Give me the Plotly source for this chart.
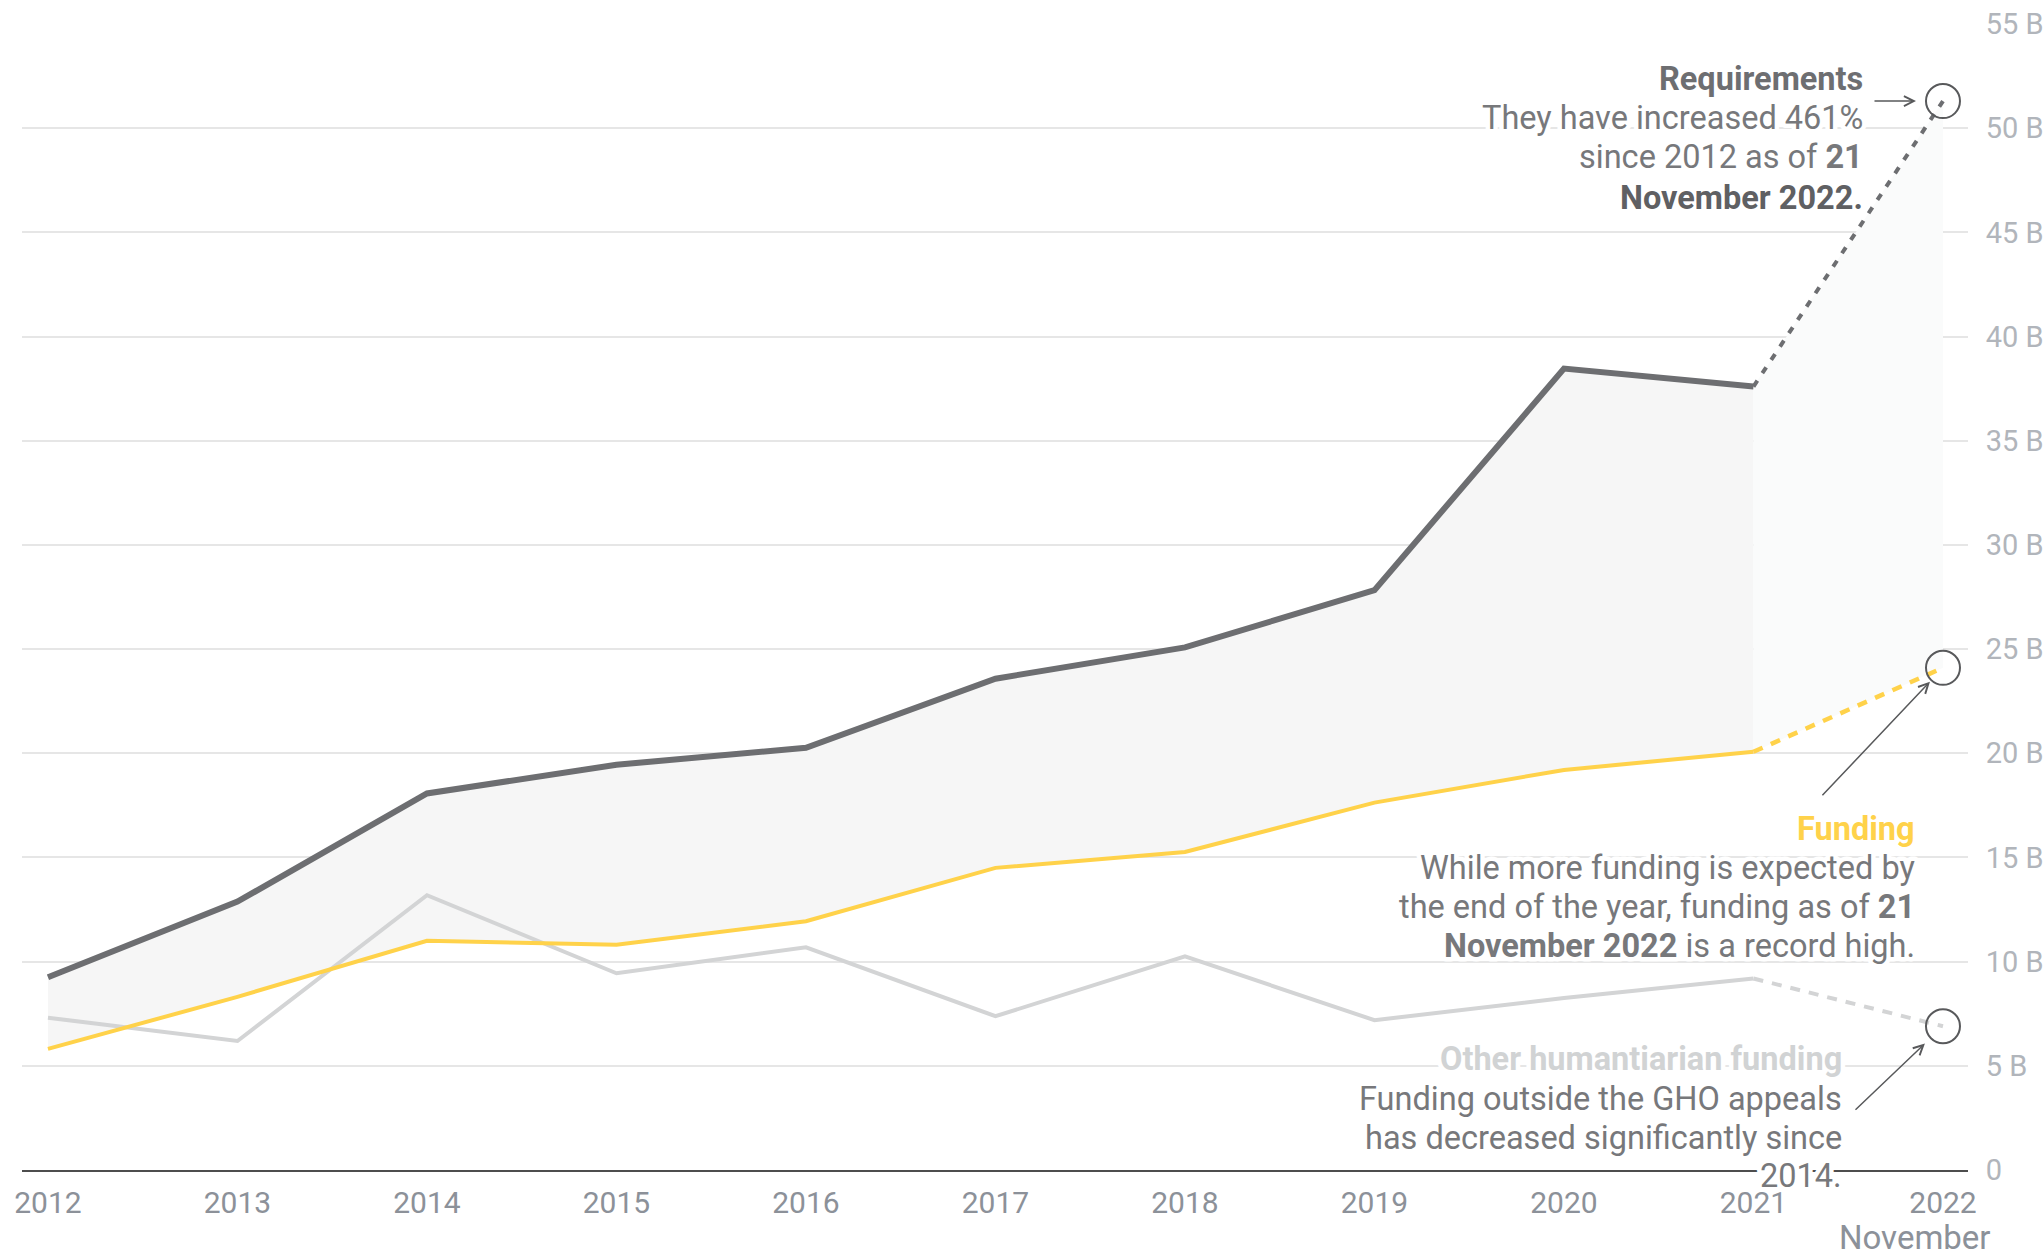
import plotly.graph_objects as go

# ---- data (billions USD) ----
years = [2012, 2013, 2014, 2015, 2016, 2017, 2018, 2019, 2020, 2021, 2022]
year_labels = ["2012", "2013", "2014", "2015", "2016", "2017", "2018", "2019", "2020", "2021", "2022"]
requirements = [9.25, 12.88, 18.07, 19.45, 20.26, 23.58, 25.08, 27.83, 38.46, 37.6, 51.3]
funding = [5.81, 8.31, 11.0, 10.81, 11.94, 14.5, 15.26, 17.63, 19.2, 20.07, 24.1]
other_funding = [7.31, 6.19, 13.19, 9.44, 10.69, 7.38, 10.25, 7.19, 8.25, 9.19, 6.9]
y_ticks = [0, 5, 10, 15, 20, 25, 30, 35, 40, 45, 50, 55]
y_tick_labels = ["0", "5 B", "10 B", "15 B", "20 B", "25 B", "30 B", "35 B", "40 B", "45 B", "50 B", "55 B"]

P = 9  # index of last actual year (2021); 2022 is as of 21 November

FONT = "Roboto, 'Open Sans', sans-serif"
DARK = "#6d6e71"
YELLOW = "#ffd24a"
LIGHT = "#d3d4d5"
BODY = "#77787b"
BOLD = "#5f6063"

# plot area in page pixels
L, R, T, B = 22, 1968, 24, 1170.5
W, H = 2044, 1252


def px(x):
    return (x - L) / (R - L)


def py(y):
    return (B - y) / (B - T)


fig = go.Figure()

# gap fill (actual years)
fig.add_trace(go.Scatter(x=years[:P + 1], y=funding[:P + 1], mode="lines",
                         line=dict(width=0), hoverinfo="skip"))
fig.add_trace(go.Scatter(x=years[:P + 1], y=requirements[:P + 1], mode="lines",
                         line=dict(width=0), fill="tonexty", fillcolor="#f6f6f6", hoverinfo="skip"))
# gap fill (2022 to date)
fig.add_trace(go.Scatter(x=years[P:], y=funding[P:], mode="lines",
                         line=dict(width=0), hoverinfo="skip"))
fig.add_trace(go.Scatter(x=years[P:], y=requirements[P:], mode="lines",
                         line=dict(width=0), fill="tonexty", fillcolor="#fafbfb", hoverinfo="skip"))

# other humanitarian funding
fig.add_trace(go.Scatter(x=years[:P + 1], y=other_funding[:P + 1], mode="lines",
                         line=dict(color=LIGHT, width=4)))
fig.add_trace(go.Scatter(x=years[P:], y=other_funding[P:], mode="lines",
                         line=dict(color=LIGHT, width=4, dash="10px,9px")))
# funding
fig.add_trace(go.Scatter(x=years[:P + 1], y=funding[:P + 1], mode="lines",
                         line=dict(color=YELLOW, width=4)))
fig.add_trace(go.Scatter(x=years[P:], y=funding[P:], mode="lines",
                         line=dict(color=YELLOW, width=4.5, dash="10px,9px")))
# requirements
fig.add_trace(go.Scatter(x=years[:P + 1], y=requirements[:P + 1], mode="lines",
                         line=dict(color=DARK, width=6)))
fig.add_trace(go.Scatter(x=years[P:], y=requirements[P:], mode="lines",
                         line=dict(color=DARK, width=4, dash="7px,9px")))

# circles around the latest points
fig.add_trace(go.Scatter(x=[years[-1]] * 3,
                         y=[requirements[-1], funding[-1], other_funding[-1]],
                         mode="markers",
                         marker=dict(symbol="circle-open", size=34,
                                     line=dict(color="#58595b", width=2), color="#58595b")))


def halo(s, color):
    return ("<span style='stroke:#ffffff;stroke-width:9px;paint-order:stroke fill;"
            "stroke-linejoin:round;color:%s'>%s</span>" % (color, s))


annotations = []


def text_block(lines, right_x, centers, size=32.5):
    for (s, color), cy in zip(lines, centers):
        annotations.append(dict(
            text=halo(s, color), xref="paper", yref="paper", x=px(right_x + 3), y=py(cy - 3),
            xanchor="right", yanchor="middle", align="right", showarrow=False,
            font=dict(family=FONT, size=size, color=color)))


text_block([("<b>Requirements</b>", DARK),
            ("They have increased 461%", BODY),
            ("since 2012 as of <b>21</b>", BODY),
            ("<b>November 2022.</b>", BOLD)],
           1862, [82, 121, 160, 201])
text_block([("<b>Funding</b>", YELLOW),
            ("While more funding is expected by", BODY),
            ("the end of the year, funding as of <b>21</b>", BODY),
            ("<b>November 2022</b> is a record high.", BODY)],
           1914, [832, 871, 910, 949])
text_block([("<b>Other humantiarian funding</b>", "#d1d3d4"),
            ("Funding outside the GHO appeals", BODY),
            ("has decreased significantly since", BODY),
            ("2014.", BODY)],
           1841, [1062, 1102, 1141, 1180])

annotations += [
    dict(text="November", xref="paper", yref="paper", x=px(1915), y=py(1238),
         xanchor="center", yanchor="middle", showarrow=False,
         font=dict(family=FONT, size=33, color="#8c9199")),
    # arrows
    dict(text="", x=years[-1], y=requirements[-1], xref="x", yref="y",
         ax=-70, ay=0, showarrow=True, arrowhead=5, arrowsize=1.3, arrowwidth=1.5,
         arrowcolor="#58595b", standoff=27),
    dict(text="", x=years[-1], y=funding[-1], xref="x", yref="y",
         ax=-122, ay=129, showarrow=True, arrowhead=5, arrowsize=1.3, arrowwidth=1.5,
         arrowcolor="#58595b", standoff=19),
    dict(text="", x=years[-1], y=other_funding[-1], xref="x", yref="y",
         ax=-89, ay=85, showarrow=True, arrowhead=5, arrowsize=1.3, arrowwidth=1.5,
         arrowcolor="#58595b", standoff=25),
]

fig.update_layout(
    width=W, height=H,
    margin=dict(l=L, r=W - R, t=T, b=H - B),
    paper_bgcolor="white", plot_bgcolor="white",
    showlegend=False, hovermode=False,
    font=dict(family=FONT),
    annotations=annotations,
    xaxis=dict(range=[2011.863, 2022.132], tickvals=years, ticktext=year_labels,
               showgrid=False, zeroline=False, showline=True, linecolor="#4d4d4d",
               linewidth=2, ticks="outside", ticklen=5, tickcolor="rgba(0,0,0,0)",
               automargin=False,
               tickfont=dict(family=FONT, size=30, color="#8c9199")),
    yaxis=dict(range=[0, 55], tickvals=y_ticks, ticktext=y_tick_labels, side="right",
               showgrid=True, gridcolor="#e6e6e6", gridwidth=1.5, zeroline=False,
               showline=False, ticks="outside", ticklen=11, tickcolor="rgba(0,0,0,0)",
               automargin=False,
               tickfont=dict(family=FONT, size=29, color="#b1b5bb")),
)

fig.write_html("out.html", config={"displayModeBar": False},
               post_script="document.body.style.margin='0';document.body.style.overflow='hidden';")
